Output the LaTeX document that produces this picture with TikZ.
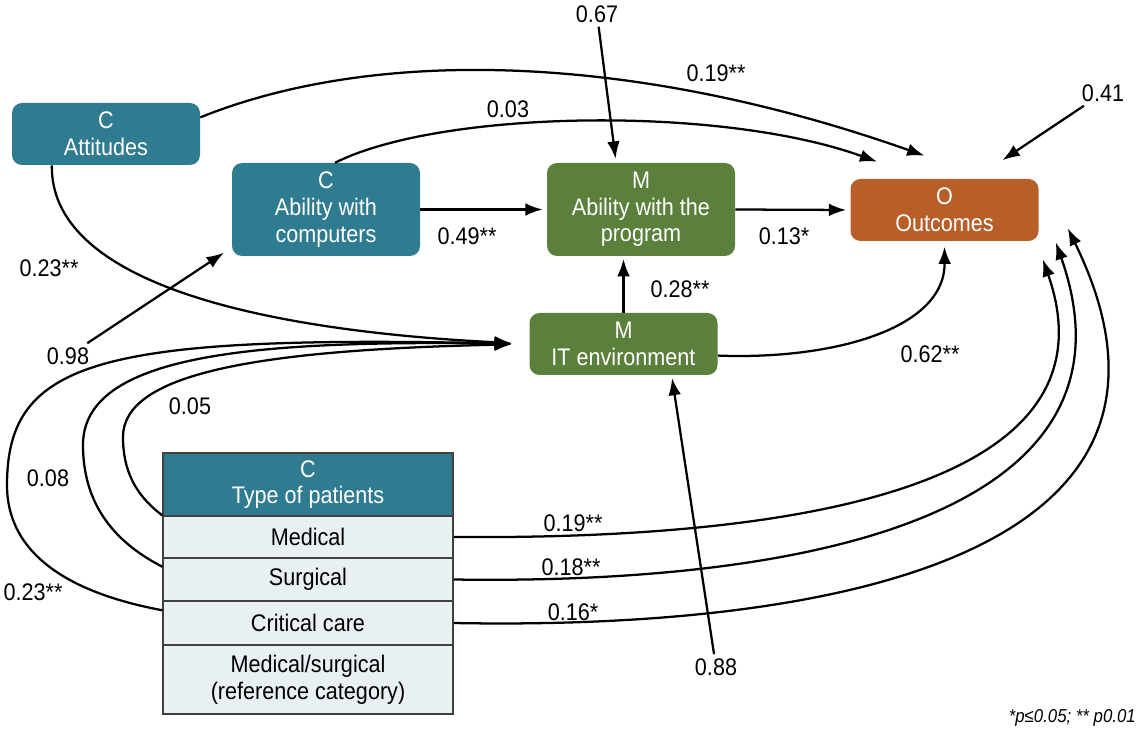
\documentclass[tikz,border=0pt]{standalone}
\usepackage{fontspec}
\setmainfont{Liberation Sans}[FakeStretch=0.9]
\usetikzlibrary{arrows.meta}
\definecolor{tealbox}{HTML}{2F7B8F}
\definecolor{greenbox}{HTML}{5A803C}
\definecolor{orangebox}{HTML}{B85E28}
\definecolor{cellfill}{HTML}{E8F0F2}
\definecolor{cellline}{HTML}{404040}
\tikzset{
  box/.style={rounded corners=7.5pt, text=white, align=center, inner sep=0pt,
    minimum width=141pt, minimum height=46.5pt, font=\fontsize{18}{20}\selectfont},
  tallbox/.style={box, minimum height=69.75pt},
  cell/.style={draw=cellline, line width=0.8pt, fill=cellfill, align=center, inner sep=0pt,
    minimum width=217.5pt, font=\fontsize{18}{20}\selectfont},
  coef/.style={inner sep=3pt, font=\fontsize{18}{20}\selectfont},
  link/.style={line width=1.7pt, arrows={-Latex[length=13pt, width=9.5pt]}}
}
\begin{document}
\begin{tikzpicture}[x=0.75pt, y=-0.75pt]
\useasboundingbox (0,0) rectangle (1143,734);

\node (att) [box, fill=tealbox] at (106,134) {C\\Attitudes};
\node (comp) [tallbox, fill=tealbox] at (326,209.5) {C\\Ability with\\computers};
\node (prog) [tallbox, fill=greenbox] at (641,209.5) {M\\Ability with the\\program};
\node (out) [box, fill=orangebox] at (944.5,210) {O\\Outcomes};
\node (ite) [box, fill=greenbox] at (623.5,344) {M\\IT environment};

\node (hdr) [cell, fill=tealbox, text=white, minimum height=47.25pt] at (308,484.5) {C\\Type of patients};
\node (med) [cell, minimum height=31.5pt] at (308,537) {Medical};
\node (sur) [cell, minimum height=32.25pt] at (308,579.5) {Surgical};
\node (cri) [cell, minimum height=33pt] at (308,623) {Critical care};
\node (ref) [cell, minimum height=51.75pt] at (308,679.5) {Medical/surgical\\(reference category)};

\node (c67) [coef] at (597,14) {0.67};
\node (c41) [coef] at (1103,93) {0.41};
\node (c19a) [coef] at (716,73) {0.19**};
\node (c03) [coef] at (508,109) {0.03};
\node (c23a) [coef] at (49,268) {0.23**};
\node (c49) [coef] at (467,236) {0.49**};
\node (c13) [coef] at (784,236) {0.13*};
\node (c28) [coef] at (680,289) {0.28**};
\node (c98) [coef] at (68,356) {0.98};
\node (c62) [coef] at (930,354) {0.62**};
\node (c05) [coef] at (190,406) {0.05};
\node (c08) [coef] at (48,478) {0.08};
\node (c23b) [coef] at (33,592) {0.23**};
\node (c19b) [coef] at (573,523) {0.19**};
\node (c18) [coef] at (571,567) {0.18**};
\node (c16) [coef] at (573,612) {0.16*};
\node (c88) [coef] at (716,667) {0.88};
\node (note) [anchor=south east, inner sep=0pt, font=\fontsize{14}{16}\selectfont\itshape] at (1136,727) {*p≤0.05; ** p0.01};

\draw [link, shorten >=3pt] (c67) -- (prog.118);
\draw [link, shorten >=25pt] (c41) -- (out.46);
\draw [link] (att.10) .. controls (380,45) and (640,55) .. ([shift={(-20,-23)}]out.north);
\draw [link] (comp.79) .. controls (440,110) and (720,105) .. ([shift={(27,-17)}]out.north west);
\draw [link, shorten >=3pt] (comp.east) -- (prog.west);
\draw [link, shorten >=3pt] (prog.east) -- (out.west);
\draw [link, shorten >=2pt] (ite.north) -- (ite.north |- prog.south);
\draw [link, shorten >=4pt] (ite.-7) .. controls (830,360) and (945,330) .. (out.south);
\draw [link, shorten >=7pt] (c98) -- (comp.202);
\draw [link, shorten >=2pt] (c88) -- (ite.-33);
\draw [link, shorten >=13pt] (att.210) .. controls (50,280) and (250,330) .. (ite.west);
\draw [link, shorten >=13pt] (med.north west) .. controls (135,495) and (123,470) .. (123,437)
  .. controls (123,375) and (250,350) .. (ite.west);
\draw [link, shorten >=13pt] (sur.175) .. controls (110,540) and (83,500) .. (83,445)
  .. controls (83,355) and (250,340) .. (ite.west);
\draw [link, shorten >=13pt] (cri.175) .. controls (80,595) and (7,560) .. (7,485)
  .. controls (7,360) and (100,335) .. (ite.west);
\draw [link] (med.east) .. controls (820,540) and (1120,480) .. ([shift={(4,18)}]out.south east);
\draw [link] (sur.east) .. controls (820,585) and (1150,510) .. ([shift={(17,1)}]out.south east);
\draw [link] (cri.east) .. controls (820,630) and (1230,560) .. ([shift={(29,-13)}]out.south east);
\end{tikzpicture}
\end{document}
